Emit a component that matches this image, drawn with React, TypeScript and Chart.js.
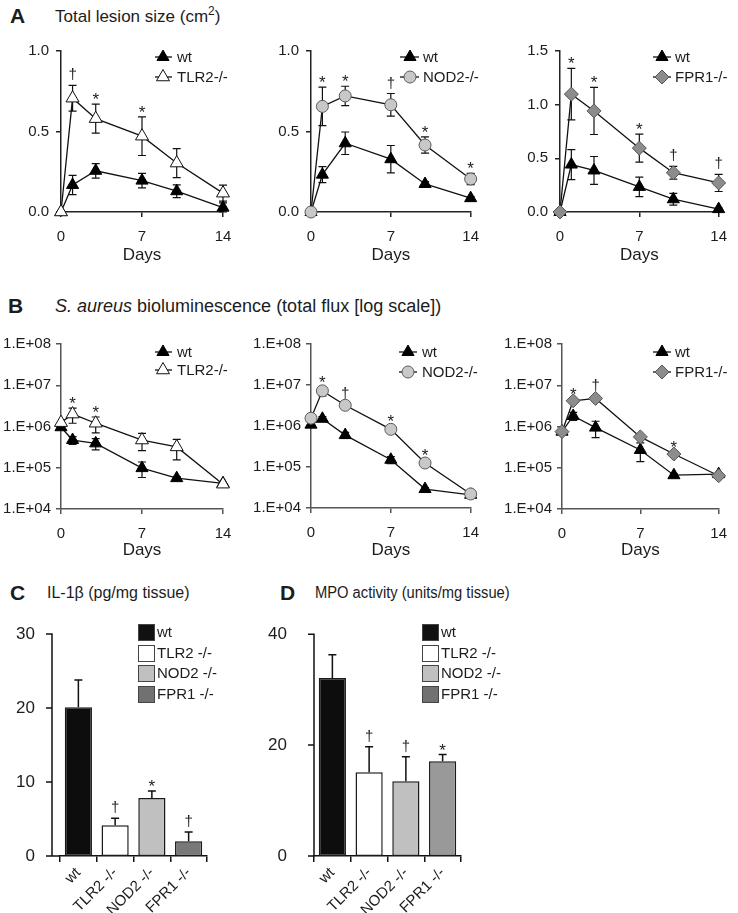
import React, { useEffect, useRef } from 'react';
import { Chart, registerables } from 'chart.js';

Chart.register(...registerables);

const FONT = '"Liberation Sans", Arial, Helvetica, sans-serif';
const TEXT = '#1c1c1c';

// ---------- shared axes ----------
const days = [0, 1, 3, 7, 10, 14];
const dayTicks = [0, 7, 14];
const lesionTicksSmall = [0, 0.5, 1.0];
const lesionTicksLarge = [0, 0.5, 1.0, 1.5];
const fluxTicks = [1e4, 1e5, 1e6, 1e7, 1e8];
const fluxTickLabels = ['1.E+04', '1.E+05', '1.E+06', '1.E+07', '1.E+08'];

// ---------- A: total lesion size (cm2) ----------
const lesionWt1 = [0, 0.168, 0.256, 0.195, 0.129, 0.027];
const lesionWt1Err = [0, 0.06, 0.045, 0.045, 0.04, 0.03];
const lesionTlr2 = [0, 0.707, 0.58, 0.471, 0.304, 0.117];
const lesionTlr2Err = [0, 0.08, 0.09, 0.12, 0.09, 0.05];
const lesionTlr2Sig = ['', '†', '*', '*', '', ''];

const lesionWt2 = [0, 0.232, 0.427, 0.328, 0.174, 0.086];
const lesionWt2Err = [0, 0.05, 0.07, 0.085, 0.015, 0.01];
const lesionNod2 = [0, 0.656, 0.721, 0.666, 0.416, 0.205];
const lesionNod2Err = [0, 0.12, 0.06, 0.07, 0.05, 0.035];
const lesionNod2Sig = ['', '*', '*', '†', '*', '*'];

const lesionWt3 = [0, 0.442, 0.387, 0.234, 0.119, 0.027];
const lesionWt3Err = [0, 0.14, 0.13, 0.09, 0.055, 0.01];
const lesionFpr1 = [0, 1.098, 0.942, 0.595, 0.366, 0.271];
const lesionFpr1Err = [0, 0.24, 0.22, 0.13, 0.06, 0.08];
const lesionFpr1Sig = ['', '*', '*', '*', '†', '†'];

// ---------- B: S. aureus bioluminescence (total flux) ----------
const fluxWt1 = [9.6e5, 4.7e5, 3.9e5, 9.8e4, 5.6e4, 4.2e4];
const fluxWt1Err = [0, 1.0e5, 1.2e5, 4e4, 5e3, 0];
const fluxTlr2 = [1.24e6, 2.0e6, 1.2e6, 4.7e5, 3.2e5, 4.0e4];
const fluxTlr2Err = [0, 8e5, 5e5, 2.1e5, 1.65e5, 0];
const fluxTlr2Sig = ['', '*', '*', '', '', ''];

const fluxWt2 = [1.08e6, 1.5e6, 6.0e5, 1.5e5, 2.9e4, 2.1e4];
const fluxWt2Err = [0, 2e5, 1e5, 3e4, 2e3, 0];
const fluxNod2 = [1.55e6, 7.2e6, 3.2e6, 8.3e5, 1.25e5, 2.2e4];
const fluxNod2Err = [0, 1.8e6, 3e5, 1.5e5, 2.5e4, 0];
const fluxNod2Sig = ['', '*', '†', '*', '*', ''];

const fluxWt3 = [7.5e5, 1.8e6, 9.4e5, 2.7e5, 6.6e4, 7.0e4];
const fluxWt3Err = [0, 4e5, 4e5, 1.3e5, 5e3, 0];
const fluxFpr1 = [7.5e5, 4.2e6, 4.8e6, 5.6e5, 2.15e5, 6.4e4];
const fluxFpr1Err = [0, 5e5, 6e5, 6e4, 3e4, 0];
const fluxFpr1Sig = ['', '*', '†', '', '*', ''];

// ---------- C & D: bars ----------
const groups = ['wt', 'TLR2 -/-', 'NOD2 -/-', 'FPR1 -/-'];
const il1b = [20.1, 4.15, 7.84, 2.0];
const il1bErr = [3.7, 0.95, 0.96, 1.25];
const il1bSig = ['', '†', '*', '†'];
const il1bTicks = [0, 10, 20, 30];
const mpo = [32.1, 15.1, 13.5, 17.1];
const mpoErr = [4.2, 4.6, 4.4, 1.2];
const mpoSig = ['', '†', '†', '*'];
const mpoTicks = [0, 20, 40];

// ---------- styles ----------
type Marker = { shape: 'triangle' | 'circle' | 'rectRot'; radius: number; fill: string; stroke: string };
const WT: Marker = { shape: 'triangle', radius: 7, fill: '#000000', stroke: '#000000' };
const TLR2: Marker = { shape: 'triangle', radius: 7.5, fill: '#ffffff', stroke: '#111111' };
const NOD2: Marker = { shape: 'circle', radius: 6, fill: '#c8c8c8', stroke: '#5a5a5a' };
const FPR1: Marker = { shape: 'rectRot', radius: 7, fill: '#8c8c8c', stroke: '#555555' };

const barColorsC = ['#0d0d0d', '#ffffff', '#c0c0c0', '#787878'];
const barColorsD = ['#0d0d0d', '#ffffff', '#c0c0c0', '#999999'];
const legendColors = ['#111111', '#ffffff', '#c0c0c0', '#717171'];

function drawMarker(ctx: CanvasRenderingContext2D, m: Marker, x: number, y: number) {
  const r = m.radius;
  ctx.beginPath();
  if (m.shape === 'circle') {
    ctx.arc(x, y, r, 0, Math.PI * 2);
  } else if (m.shape === 'triangle') {
    ctx.moveTo(x, y - r);
    ctx.lineTo(x + r * Math.sin((2 * Math.PI) / 3), y - r * Math.cos((2 * Math.PI) / 3));
    ctx.lineTo(x + r * Math.sin((4 * Math.PI) / 3), y - r * Math.cos((4 * Math.PI) / 3));
    ctx.closePath();
  } else {
    ctx.moveTo(x - r, y);
    ctx.lineTo(x, y - r);
    ctx.lineTo(x + r, y);
    ctx.lineTo(x, y + r);
    ctx.closePath();
  }
  ctx.fillStyle = m.fill;
  ctx.fill();
  ctx.lineWidth = 1;
  ctx.strokeStyle = m.stroke;
  ctx.stroke();
}

function valOf(d: any): number {
  return typeof d === 'number' ? d : d.y;
}

// error bars + significance marks
const errorBarPlugin = {
  id: 'errorBars',
  beforeDatasetsDraw(chart: any, _a: any, opts: any) {
    if (!opts.after) drawErrors(chart, opts);
  },
  afterDatasetsDraw(chart: any, _a: any, opts: any) {
    if (opts.after) drawErrors(chart, opts);
    drawSig(chart, opts);
  },
};

function drawErrors(chart: any, opts: any) {
  const { ctx } = chart;
  const ys = chart.scales.y;
  chart.data.datasets.forEach((ds: any, i: number) => {
    if (!ds.errors) return;
    const meta = chart.getDatasetMeta(i);
    ctx.save();
    ctx.strokeStyle = opts.color || '#111';
    ctx.lineWidth = opts.width || 1.2;
    const cap = opts.cap || 4;
    meta.data.forEach((el: any, j: number) => {
      const e = ds.errors[j];
      if (!e) return;
      const v = valOf(ds.data[j]);
      const top = ys.getPixelForValue(v + e);
      ctx.beginPath();
      ctx.moveTo(el.x, top);
      ctx.lineTo(el.x, el.y);
      ctx.moveTo(el.x - cap, top);
      ctx.lineTo(el.x + cap, top);
      if (!opts.upOnly) {
        const lowV = Math.max(v - e, ys.min);
        const bot = ys.getPixelForValue(lowV);
        ctx.moveTo(el.x, el.y);
        ctx.lineTo(el.x, bot);
        ctx.moveTo(el.x - cap, bot);
        ctx.lineTo(el.x + cap, bot);
      }
      ctx.stroke();
    });
    ctx.restore();
  });
}

function drawSig(chart: any, opts: any) {
  const { ctx } = chart;
  const ys = chart.scales.y;
  chart.data.datasets.forEach((ds: any, i: number) => {
    if (!ds.sig) return;
    const meta = chart.getDatasetMeta(i);
    ctx.save();
    ctx.fillStyle = TEXT;
    ctx.textAlign = 'center';
    ctx.textBaseline = 'alphabetic';
    meta.data.forEach((el: any, j: number) => {
      const s = ds.sig[j];
      if (!s) return;
      const v = valOf(ds.data[j]);
      const e = ds.errors ? ds.errors[j] : 0;
      const top = e ? ys.getPixelForValue(v + e) : el.y;
      if (s === '*') {
        ctx.font = `${opts.starSize || 17}px ${FONT}`;
        ctx.fillText(s, el.x, top + 1);
      } else {
        ctx.font = `${opts.daggerSize || 15}px ${FONT}`;
        ctx.fillText(s, el.x, top - 6);
      }
    });
    ctx.restore();
  });
}

// ---------- line panel ----------
type LineSeries = { label: string; values: number[]; errors: number[]; sig?: string[]; marker: Marker; order: number };
type LineProps = {
  box: [number, number, number, number];
  area: [number, number, number, number];
  daysY: number;
  series: LineSeries[];
  log: boolean;
  yMin: number;
  yMax: number;
  yTicks: number[];
  yLabels: string[];
  yFont: number;
  yPad: number;
  axisColor: string;
  legend: { x0: number; x1: number; mx: number; tx: number; rows: number[] };
};

function LinePanel(p: LineProps) {
  const ref = useRef<HTMLCanvasElement>(null);
  const [cx, cy, cw, ch] = p.box;
  useEffect(() => {
    const [al, at, ar, ab] = p.area;
    const yW = al - cx;
    const xH = cy + ch - ab;
    const titlePad = cy + ch - p.daysY - 10.2;
    const lg = p.legend;
    const legendPlugin = {
      id: 'lineLegend',
      afterDraw(chart: any) {
        const ctx = chart.ctx as CanvasRenderingContext2D;
        ctx.save();
        p.series.forEach((s, k) => {
          const y = lg.rows[k] - cy;
          ctx.beginPath();
          ctx.strokeStyle = '#111';
          ctx.lineWidth = 1.3;
          ctx.moveTo(lg.x0 - cx, y);
          ctx.lineTo(lg.x1 - cx, y);
          ctx.stroke();
          drawMarker(ctx, s.marker, lg.mx - cx, y);
          ctx.fillStyle = TEXT;
          ctx.font = `15px ${FONT}`;
          ctx.textAlign = 'left';
          ctx.textBaseline = 'middle';
          ctx.fillText(s.label, lg.tx - cx, y + 1);
        });
        ctx.restore();
      },
    };
    const chart = new Chart(ref.current as HTMLCanvasElement, {
      type: 'line',
      data: {
        datasets: p.series.map((s) => ({
          label: s.label,
          data: days.map((d, i) => ({ x: d, y: s.values[i] })),
          errors: s.errors,
          sig: s.sig,
          borderColor: '#111',
          borderWidth: 1.3,
          pointStyle: s.marker.shape,
          pointRadius: s.marker.radius,
          pointBackgroundColor: s.marker.fill,
          pointBorderColor: s.marker.stroke,
          pointBorderWidth: 1,
          clip: false,
          order: s.order,
          tension: 0,
          fill: false,
        })) as any,
      },
      options: {
        animation: false,
        responsive: false,
        maintainAspectRatio: false,
        events: [],
        layout: { padding: { left: 0, top: at - cy, right: cx + cw - ar, bottom: 0 } },
        plugins: {
          legend: { display: false },
          tooltip: { enabled: false },
          errorBars: { cap: 4, width: 1.2, color: '#111', starSize: 17, daggerSize: 15 },
        } as any,
        scales: {
          x: {
            type: 'linear',
            min: 0,
            max: 14,
            afterBuildTicks: (s: any) => {
              s.ticks = dayTicks.map((v) => ({ value: v }));
            },
            afterFit: (s: any) => {
              s.height = xH;
            },
            border: { display: true, color: p.axisColor, width: 1.5 },
            grid: { display: true, drawOnChartArea: false, drawTicks: true, tickLength: 5, color: p.axisColor, lineWidth: 1.5 },
            ticks: { color: TEXT, font: { family: FONT, size: 15 }, padding: 11, maxRotation: 0, autoSkip: false },
            title: { display: true, text: 'Days', color: TEXT, font: { family: FONT, size: 17 }, padding: { top: 0, bottom: titlePad } },
          },
          y: {
            type: p.log ? 'logarithmic' : 'linear',
            min: p.yMin,
            max: p.yMax,
            afterBuildTicks: (s: any) => {
              s.ticks = p.yTicks.map((v) => ({ value: v }));
            },
            afterFit: (s: any) => {
              s.width = yW;
            },
            border: { display: true, color: p.axisColor, width: 1.5 },
            grid: { display: true, drawOnChartArea: false, drawTicks: true, tickLength: 5, color: p.axisColor, lineWidth: 1.5 },
            ticks: {
              color: TEXT,
              font: { family: FONT, size: p.yFont },
              padding: p.yPad,
              autoSkip: false,
              callback: (v: any) => {
                const idx = p.yTicks.findIndex((t) => Math.abs(t - Number(v)) < 1e-9 * Math.max(1, Math.abs(t)));
                return idx >= 0 ? p.yLabels[idx] : '';
              },
            },
          },
        } as any,
      },
      plugins: [errorBarPlugin as any, legendPlugin as any],
    });
    return () => chart.destroy();
  }, []);
  return <canvas ref={ref} width={cw} height={ch} style={{ position: 'absolute', left: cx, top: cy, width: cw, height: ch }} />;
}

// ---------- bar panel ----------
type BarProps = {
  box: [number, number, number, number];
  area: [number, number, number, number];
  gap: number;
  values: number[];
  errors: number[];
  sig: string[];
  colors: string[];
  yMax: number;
  yTicks: number[];
  yPad: number;
  legend: { x: number; tx: number; rows: number[] };
};

function BarPanel(p: BarProps) {
  const ref = useRef<HTMLCanvasElement>(null);
  const [cx, cy, cw, ch] = p.box;
  useEffect(() => {
    const [al, at, ar, ab] = p.area;
    const yW = al - cx;
    const xH = cy + ch - ab;
    const axisPlugin = {
      id: 'yAxisGap',
      afterDraw(chart: any) {
        const ctx = chart.ctx as CanvasRenderingContext2D;
        const ca = chart.chartArea;
        const ys = chart.scales.y;
        const ax = ca.left - p.gap;
        ctx.save();
        ctx.strokeStyle = '#111';
        ctx.lineWidth = 1.5;
        ctx.beginPath();
        ctx.moveTo(ax, ys.getPixelForValue(p.yMax) - 0.75);
        ctx.lineTo(ax, ca.bottom + 0.75);
        ctx.moveTo(ax, ca.bottom);
        ctx.lineTo(ca.left, ca.bottom);
        p.yTicks.forEach((t) => {
          const py = ys.getPixelForValue(t);
          ctx.moveTo(ax - 6, py);
          ctx.lineTo(ax, py);
        });
        ctx.stroke();
        // legend
        ctx.font = `15px ${FONT}`;
        ctx.textAlign = 'left';
        ctx.textBaseline = 'middle';
        groups.forEach((g, k) => {
          const y = p.legend.rows[k] - cy;
          ctx.fillStyle = legendColors[k];
          ctx.fillRect(p.legend.x - cx, y, 17, 17);
          ctx.lineWidth = 1;
          ctx.strokeStyle = '#444';
          ctx.strokeRect(p.legend.x - cx + 0.5, y + 0.5, 16, 16);
          ctx.fillStyle = TEXT;
          ctx.fillText(g, p.legend.tx - cx, y + 9);
        });
        ctx.restore();
      },
    };
    const chart = new Chart(ref.current as HTMLCanvasElement, {
      type: 'bar',
      data: {
        labels: groups,
        datasets: [
          {
            data: p.values,
            errors: p.errors,
            sig: p.sig,
            backgroundColor: p.colors,
            borderColor: '#1a1a1a',
            borderWidth: 1.5,
            borderSkipped: false,
            barPercentage: 0.74,
            categoryPercentage: 1,
          } as any,
        ],
      },
      options: {
        animation: false,
        responsive: false,
        maintainAspectRatio: false,
        events: [],
        layout: { padding: { left: 0, top: at - cy, right: cx + cw - ar, bottom: 0 } },
        plugins: {
          legend: { display: false },
          tooltip: { enabled: false },
          errorBars: { cap: 4, width: 1.5, color: '#111', upOnly: true, after: true, starSize: 17, daggerSize: 15 },
        } as any,
        scales: {
          x: {
            type: 'category',
            offset: true,
            afterFit: (s: any) => {
              s.height = xH;
            },
            border: { display: true, color: '#111', width: 1.5 },
            grid: { display: true, offset: true, drawOnChartArea: false, drawTicks: true, tickLength: 6, color: '#111', lineWidth: 1.5 },
            ticks: { color: TEXT, font: { family: FONT, size: 15 }, padding: 2, minRotation: 45, maxRotation: 45, autoSkip: false },
          },
          y: {
            type: 'linear',
            min: 0,
            max: p.yMax,
            afterBuildTicks: (s: any) => {
              s.ticks = p.yTicks.map((v) => ({ value: v }));
            },
            afterFit: (s: any) => {
              s.width = yW;
            },
            border: { display: false },
            grid: { display: false },
            ticks: { color: TEXT, font: { family: FONT, size: 17 }, padding: p.yPad, autoSkip: false },
          },
        } as any,
      },
      plugins: [errorBarPlugin as any, axisPlugin as any],
    });
    return () => chart.destroy();
  }, []);
  return <canvas ref={ref} width={cw} height={ch} style={{ position: 'absolute', left: cx, top: cy, width: cw, height: ch }} />;
}

// ---------- text ----------
function Txt(props: { x: number; y: number; size: number; bold?: boolean; sx?: number; children: any }) {
  return (
    <div
      style={{
        position: 'absolute',
        left: props.x,
        top: props.y - props.size * 0.5,
        fontSize: props.size,
        lineHeight: `${props.size}px`,
        fontWeight: props.bold ? 'bold' : 'normal',
        whiteSpace: 'nowrap',
        transformOrigin: 'left center',
        transform: props.sx ? `scaleX(${props.sx})` : undefined,
      }}
    >
      {props.children}
    </div>
  );
}

export default function App() {
  const lesionSmall = { log: false, yMin: 0, yMax: 1, yTicks: lesionTicksSmall, yLabels: ['0.0', '0.5', '1.0'], yFont: 15, yPad: 7, axisColor: '#222' };
  const lesionLarge = { log: false, yMin: 0, yMax: 1.5, yTicks: lesionTicksLarge, yLabels: ['0.0', '0.5', '1.0', '1.5'], yFont: 15, yPad: 7, axisColor: '#222' };
  const fluxAxis = { log: true, yMin: 1e4, yMax: 1e8, yTicks: fluxTicks, yLabels: fluxTickLabels, yFont: 15, yPad: 5, axisColor: '#555' };
  return (
    <div
      style={{
        position: 'absolute',
        left: 0,
        top: 0,
        width: 738,
        height: 913,
        background: '#ffffff',
        overflow: 'hidden',
        fontFamily: FONT,
        color: TEXT,
      }}
    >
      <Txt x={10} y={15} size={21} bold>A</Txt>
      <Txt x={55} y={16} size={17}>
        Total lesion size (cm<span style={{ fontSize: 12, position: 'relative', top: -7 }}>2</span>)
      </Txt>
      <Txt x={8} y={305} size={21} bold>B</Txt>
      <Txt x={55} y={306} size={18}>
        <i>S. aureus</i> bioluminescence (total flux [log scale])
      </Txt>
      <Txt x={10} y={592} size={21} bold>C</Txt>
      <Txt x={47} y={593} size={16}>IL-1β (pg/mg tissue)</Txt>
      <Txt x={280} y={592} size={21} bold>D</Txt>
      <Txt x={315} y={593} size={16} sx={0.92}>MPO activity (units/mg tissue)</Txt>

      <LinePanel
        box={[0, 35, 245, 240]}
        area={[61, 49, 223, 212]}
        daysY={255}
        {...lesionSmall}
        series={[
          { label: 'wt', values: lesionWt1, errors: lesionWt1Err, marker: WT, order: 2 },
          { label: 'TLR2-/-', values: lesionTlr2, errors: lesionTlr2Err, sig: lesionTlr2Sig, marker: TLR2, order: 1 },
        ]}
        legend={{ x0: 155, x1: 172, mx: 163, tx: 177, rows: [57, 77] }}
      />
      <LinePanel
        box={[245, 35, 245, 240]}
        area={[311, 49, 477, 212]}
        daysY={255}
        {...lesionSmall}
        series={[
          { label: 'wt', values: lesionWt2, errors: lesionWt2Err, marker: WT, order: 2 },
          { label: 'NOD2-/-', values: lesionNod2, errors: lesionNod2Err, sig: lesionNod2Sig, marker: NOD2, order: 1 },
        ]}
        legend={{ x0: 400, x1: 419, mx: 410, tx: 423, rows: [57, 77] }}
      />
      <LinePanel
        box={[490, 35, 248, 240]}
        area={[560, 48, 726, 212]}
        daysY={255}
        {...lesionLarge}
        series={[
          { label: 'wt', values: lesionWt3, errors: lesionWt3Err, marker: WT, order: 2 },
          { label: 'FPR1-/-', values: lesionFpr1, errors: lesionFpr1Err, sig: lesionFpr1Sig, marker: FPR1, order: 1 },
        ]}
        legend={{ x0: 653, x1: 671, mx: 662, tx: 675, rows: [57, 77] }}
      />

      <LinePanel
        box={[0, 325, 245, 245]}
        area={[61, 344, 223, 509]}
        daysY={550}
        {...fluxAxis}
        series={[
          { label: 'wt', values: fluxWt1, errors: fluxWt1Err, marker: WT, order: 2 },
          { label: 'TLR2-/-', values: fluxTlr2, errors: fluxTlr2Err, sig: fluxTlr2Sig, marker: TLR2, order: 1 },
        ]}
        legend={{ x0: 155, x1: 172, mx: 163, tx: 177, rows: [352, 370] }}
      />
      <LinePanel
        box={[245, 325, 245, 245]}
        area={[311, 344, 477, 508]}
        daysY={550}
        {...fluxAxis}
        series={[
          { label: 'wt', values: fluxWt2, errors: fluxWt2Err, marker: WT, order: 2 },
          { label: 'NOD2-/-', values: fluxNod2, errors: fluxNod2Err, sig: fluxNod2Sig, marker: NOD2, order: 1 },
        ]}
        legend={{ x0: 399, x1: 417, mx: 408, tx: 422, rows: [352, 372] }}
      />
      <LinePanel
        box={[490, 325, 248, 245]}
        area={[562, 344, 726, 509]}
        daysY={550}
        {...fluxAxis}
        series={[
          { label: 'wt', values: fluxWt3, errors: fluxWt3Err, marker: WT, order: 2 },
          { label: 'FPR1-/-', values: fluxFpr1, errors: fluxFpr1Err, sig: fluxFpr1Sig, marker: FPR1, order: 1 },
        ]}
        legend={{ x0: 653, x1: 671, mx: 662, tx: 675, rows: [352, 372] }}
      />

      <BarPanel
        box={[0, 605, 258, 308]}
        area={[60, 634, 207, 856]}
        gap={8}
        values={il1b}
        errors={il1bErr}
        sig={il1bSig}
        colors={barColorsC}
        yMax={30}
        yTicks={il1bTicks}
        yPad={17}
        legend={{ x: 138, tx: 157, rows: [624, 645, 665, 686] }}
      />
      <BarPanel
        box={[262, 605, 300, 308]}
        area={[314, 634, 461, 856]}
        gap={0}
        values={mpo}
        errors={mpoErr}
        sig={mpoSig}
        colors={barColorsD}
        yMax={40}
        yTicks={mpoTicks}
        yPad={19}
        legend={{ x: 422, tx: 441, rows: [624, 645, 665, 686] }}
      />
    </div>
  );
}
